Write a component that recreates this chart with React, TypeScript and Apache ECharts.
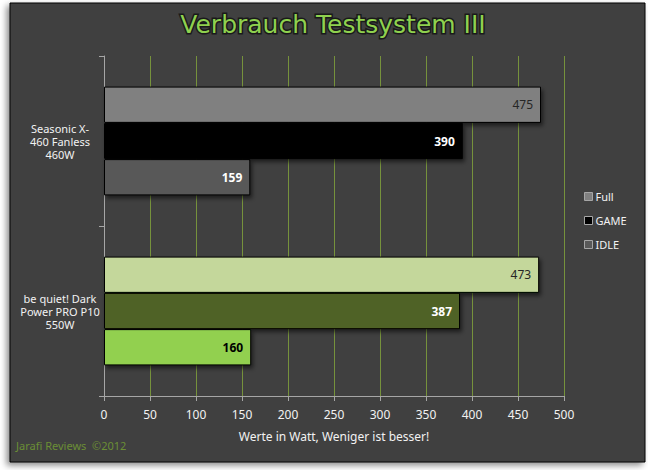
import React, { useEffect, useRef } from "react";
import * as echarts from "echarts";

const categories = ["Seasonic X-\n460 Fanless\n460W", "be quiet! Dark\nPower PRO P10\n550W"];
const seriesNames = ["Full", "GAME", "IDLE"];
const fullValues = [475, 473];
const gameValues = [390, 387];
const idleValues = [159, 160];
const xTicks = [0, 50, 100, 150, 200, 250, 300, 350, 400, 450, 500];

const fullColors = ["#808080", "#c4d79b"];
const gameColors = ["#000000", "#4f6228"];
const idleColors = ["#595959", "#92d050"];
const fullLabelColors = ["#262626", "#262626"];
const gameLabelColors = ["#ffffff", "#ffffff"];
const idleLabelColors = ["#ffffff", "#000000"];
const fullLabelWeights = ["normal", "normal"];
const gameLabelWeights = ["bold", "bold"];
const idleLabelWeights = ["bold", "bold"];

const FONT = "'Noto Sans', 'DejaVu Sans', sans-serif";

function makeSeries(name: string, values: number[], colors: string[], labelColors: string[], weights: string[]) {
  return {
    name,
    type: "bar",
    barGap: "0%",
    barCategoryGap: "36%",
    itemStyle: {
      color: colors[0],
      borderColor: "#000000",
      borderWidth: 1,
      shadowColor: "rgba(0,0,0,0.55)",
      shadowBlur: 4,
      shadowOffsetX: 2,
      shadowOffsetY: 3,
    },
    data: values.map((v, i) => ({
      value: v,
      itemStyle: { color: colors[i] },
      label: { color: labelColors[i], fontWeight: weights[i] },
    })),
    label: {
      show: true,
      position: "insideRight",
      distance: 8,
      fontSize: 12,
      fontFamily: FONT,
    },
  };
}

export default function App() {
  const ref = useRef<HTMLDivElement>(null);
  useEffect(() => {
    if (!ref.current) return;
    const chart = echarts.init(ref.current, null, { renderer: "svg" });
    chart.setOption({
      animation: false,
      backgroundColor: "#ffffff",
      graphic: [
        {
          type: "rect",
          z: -10,
          shape: { x: 10, y: 3, width: 635, height: 459 },
          style: {
            fill: "#404040",
            stroke: "#000000",
            lineWidth: 1,
            shadowColor: "rgba(0,0,0,0.45)",
            shadowBlur: 6,
            shadowOffsetX: -3,
            shadowOffsetY: 3,
          },
        },
        {
          type: "text",
          z: 10,
          left: 16,
          top: 440,
          style: {
            text: "Jarafi Reviews  ©2012",
            fill: "#6b8e35",
            fontSize: 11,
            fontFamily: FONT,
          },
        },
      ],
      title: {
        text: "Verbrauch Testsystem III",
        left: 328,
        textAlign: "center",
        top: 7,
        textStyle: {
          color: "#8fd14f",
          fontSize: 25,
          fontWeight: 500,
          fontFamily: "'DejaVu Sans', sans-serif",
          textBorderColor: "#1a1a1a",
          textBorderWidth: 3,
        },
      },
      legend: {
        orient: "vertical",
        left: 579,
        top: 186,
        itemWidth: 8,
        itemHeight: 8,
        itemGap: 13,
        icon: "rect",
        data: seriesNames,
        itemStyle: { borderColor: "#a6a6a6", borderWidth: 1, shadowBlur: 0, shadowOffsetX: 0, shadowOffsetY: 0 },
        textStyle: { color: "#f2f2f2", fontSize: 11, fontFamily: FONT, padding: [0, 0, 0, -2] },
      },
      grid: { left: 104, right: 84, top: 56, bottom: 74, containLabel: false },
      xAxis: {
        type: "value",
        min: 0,
        max: 500,
        interval: 50,
        name: "Werte in Watt, Weniger ist besser!",
        nameLocation: "middle",
        nameGap: 34,
        nameTextStyle: { color: "#f2f2f2", fontSize: 12, fontFamily: FONT },
        axisLine: { show: true, lineStyle: { color: "#a6a6a6", width: 1 } },
        axisTick: { show: true, length: 5, lineStyle: { color: "#a6a6a6" } },
        axisLabel: {
          color: "#f2f2f2",
          fontSize: 12,
          fontFamily: FONT,
          margin: 12,
          formatter: (v: number) => (xTicks.includes(v) ? String(v) : ""),
        },
        splitLine: { show: true, lineStyle: { color: "#76923c", width: 1 } },
      },
      yAxis: {
        type: "category",
        inverse: true,
        data: categories,
        axisLine: { show: true, lineStyle: { color: "#a6a6a6", width: 1 } },
        axisTick: { show: true, length: 5, lineStyle: { color: "#a6a6a6" } },
        axisLabel: {
          color: "#f2f2f2",
          fontSize: 11,
          fontFamily: FONT,
          align: "center",
          margin: 44,
          lineHeight: 13,
        },
        splitLine: { show: false },
      },
      series: [
        makeSeries(seriesNames[0], fullValues, fullColors, fullLabelColors, fullLabelWeights),
        makeSeries(seriesNames[1], gameValues, gameColors, gameLabelColors, gameLabelWeights),
        makeSeries(seriesNames[2], idleValues, idleColors, idleLabelColors, idleLabelWeights),
      ],
    });
    return () => chart.dispose();
  }, []);
  return (
    <div
      ref={ref}
      style={{ position: "fixed", left: 0, top: 0, width: 648, height: 470 }}
    />
  );
}
